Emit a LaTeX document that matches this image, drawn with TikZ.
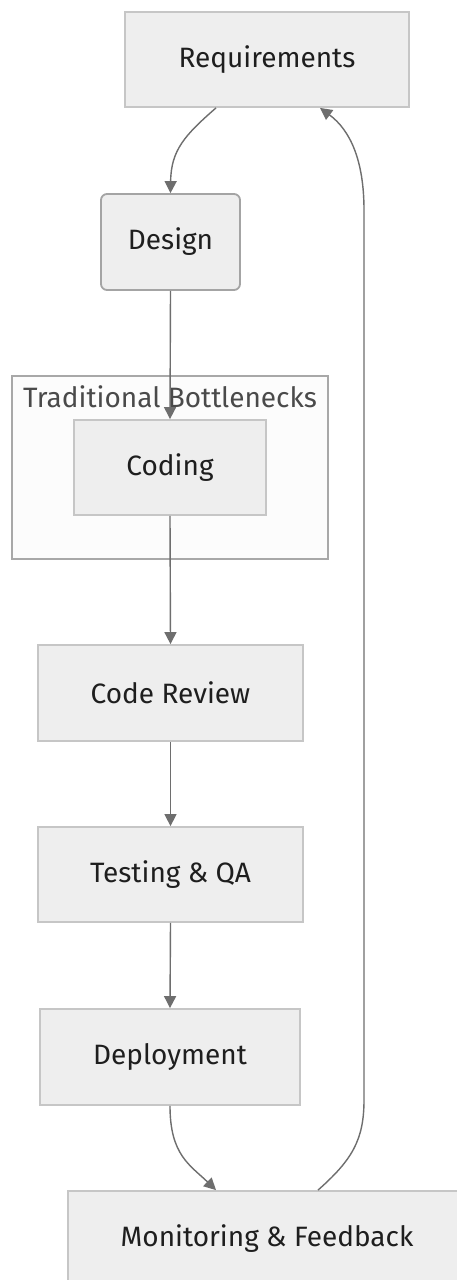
\documentclass[tikz,border=0pt]{standalone}
\usepackage{fontspec}
\setmainfont{Fira Sans}
\usetikzlibrary{arrows.meta,calc}
\definecolor{boxfill}{HTML}{EEEEEE}
\definecolor{boxline}{HTML}{C6C6C6}
\definecolor{desline}{HTML}{A4A4A4}
\definecolor{edgecol}{HTML}{6E6E6E}
\definecolor{clusterfill}{HTML}{FCFCFC}
\definecolor{clusterline}{HTML}{A8A8A8}
\definecolor{txt}{HTML}{1E1E1E}
\definecolor{ctxt}{HTML}{4A4A4A}
\begin{document}
\begin{tikzpicture}[x=1pt,y=-1pt,
  stagebox/.style={draw=boxline,fill=boxfill,line width=1.8pt,inner sep=0pt,
    text=txt,font=\fontsize{28}{33}\selectfont},
  edge/.style={draw=edgecol,line width=1.4pt,-{Triangle[length=12pt,width=12pt]}},
  plainedge/.style={draw=edgecol,line width=1.4pt}]
\useasboundingbox (0,0) rectangle (457,1280);
\clip (0,0) rectangle (457,1280);
\fill[white] (0,0) rectangle (457,1280);
% cluster
\draw[draw=clusterline,fill=clusterfill,line width=1.8pt] (12,376) rectangle (328,559);
\node[text=ctxt,font=\fontsize{28}{33}\selectfont] (clabel) at (170,397) {Traditional Bottlenecks};
% nodes
\node[stagebox,minimum width=284pt,minimum height=95pt] (req) at (267,59.5) {Requirements};
\node[stagebox,draw=desline,rounded corners=6pt,minimum width=139pt,minimum height=96pt] (des) at (170.5,242) {Design};
\node[stagebox,minimum width=192pt,minimum height=95pt] (cod) at (170,467.5) {Coding};
\node[stagebox,minimum width=265pt,minimum height=96pt] (rev) at (170.5,693) {Code Review};
\node[stagebox,minimum width=265pt,minimum height=95pt] (tst) at (170.5,874.5) {Testing \& QA};
\node[stagebox,minimum width=260pt,minimum height=96pt] (dep) at (170,1057) {Deployment};
\node[stagebox,minimum width=398pt,minimum height=95pt] (mon) at (267,1238.5) {Monitoring \& Feedback};
% anchor points
\coordinate (reqA) at ($(req.south)+(-51,0)$);
\coordinate (reqB) at ($(req.south)+(53,0)$);
\coordinate (monA) at ($(mon.north)+(-51,0)$);
\coordinate (monB) at ($(mon.north)+(51,0)$);
% edges
\draw[edge] (reqA) .. controls (185,135) and (171,150) .. (des.north);
\draw[edge] (des.south) -- (cod.north);
\draw[edge] (cod.south) -- (rev.north);
\draw[edge] (rev.south) -- (tst.north);
\draw[edge] (tst.south) -- (dep.north);
\draw[edge] (dep.south) .. controls (170,1155) and (190,1165) .. (monA);
\draw[edge] (monB) .. controls (352,1160) and (364,1140) .. (364,1100) -- (364,210) .. controls (364,160) and (350,130) .. (reqB);
\end{tikzpicture}
\end{document}
